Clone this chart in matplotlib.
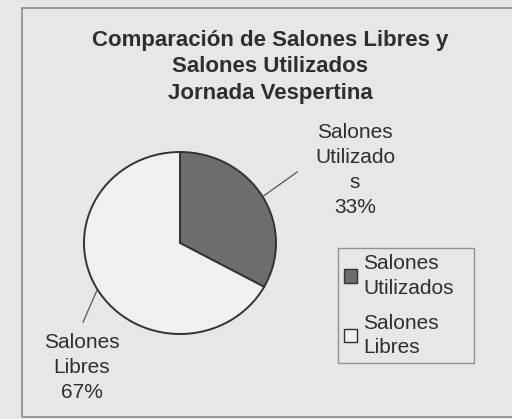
import numpy as np
import matplotlib.pyplot as plt
import matplotlib.patches as mpatches

# data
categories = ['Salones Utilizados', 'Salones Libres']
values = [33, 67]
slice_labels = ['Salones\nUtilizado\ns\n33%', 'Salones\nLibres\n67%']
legend_labels = ['Salones\nUtilizados', 'Salones\nLibres']
title = 'Comparación de Salones Libres y\nSalones Utilizados\nJornada Vespertina'

W, H = 512, 419
bg = '#e6e8e6'
txt = '#2e2e2e'
colors = ['#6d6d6d', '#eff0ef']

plt.rcParams['font.family'] = ['Liberation Sans', 'DejaVu Sans']

fig = plt.figure(figsize=(W/100, H/100), dpi=100)
fig.patch.set_facecolor(bg)

def fx(x):
    return x / W

def fy(y):
    return 1 - y / H

# chart area border
fig.add_artist(mpatches.Rectangle((fx(22), fy(417)), fx(512-22+5), fy(8) - fy(417),
                                  transform=fig.transFigure, fill=False,
                                  edgecolor='#8a8a8a', linewidth=1.2))

fig.text(fx(270), fy(67), title, ha='center', va='center', fontsize=16,
         fontweight='bold', color=txt, linespacing=1.32)

# pie axes (center ~ (180,243))
rx, ry = 96, 91
cx, cy = 180, 243
ax = fig.add_axes([fx(cx - rx), fy(cy + ry), 2*rx/W, 2*ry/H])
ax.set_facecolor('none')
wedges, _ = ax.pie(values, colors=colors, startangle=90, counterclock=False,
                   wedgeprops=dict(edgecolor='#333333', linewidth=1.4))
ax.set_aspect('auto')
ax.set_xlim(-1, 1)
ax.set_ylim(-1, 1)

# leader lines from the mid angle of each slice
label_pos = [(1.22, 0.78), (-1.01, -0.87)]
text_pos = [(355, 170), (82, 367)]
for w, lp, tp, lab in zip(wedges, label_pos, text_pos, slice_labels):
    mid = np.deg2rad((w.theta1 + w.theta2) / 2)
    ax.plot([np.cos(mid), lp[0]], [np.sin(mid), lp[1]], color='#555555',
            linewidth=0.9, clip_on=False)
    fig.text(fx(tp[0]), fy(tp[1]), lab, ha='center', va='center',
             fontsize=15, color=txt, linespacing=1.4)

handles = [mpatches.Patch(facecolor=c, edgecolor='#333333', linewidth=1.0) for c in colors]
leg = fig.legend(handles, legend_labels, loc='upper left', mode='expand',
                 bbox_to_anchor=(fx(338), fy(364), 136/W, 116/H), fontsize=15,
                 frameon=True, fancybox=False, handlelength=0.6, handleheight=0.6,
                 handletextpad=0.3, borderpad=0.3, labelspacing=0.78,
                 borderaxespad=0)
leg.get_frame().set_edgecolor('#7a7a7a')
leg.get_frame().set_facecolor(bg)
leg.get_frame().set_linewidth(1.0)
for t in leg.get_texts():
    t.set_color(txt)
    t.set_linespacing(1.35)

fig.savefig('out.png', dpi=100, facecolor=bg)
